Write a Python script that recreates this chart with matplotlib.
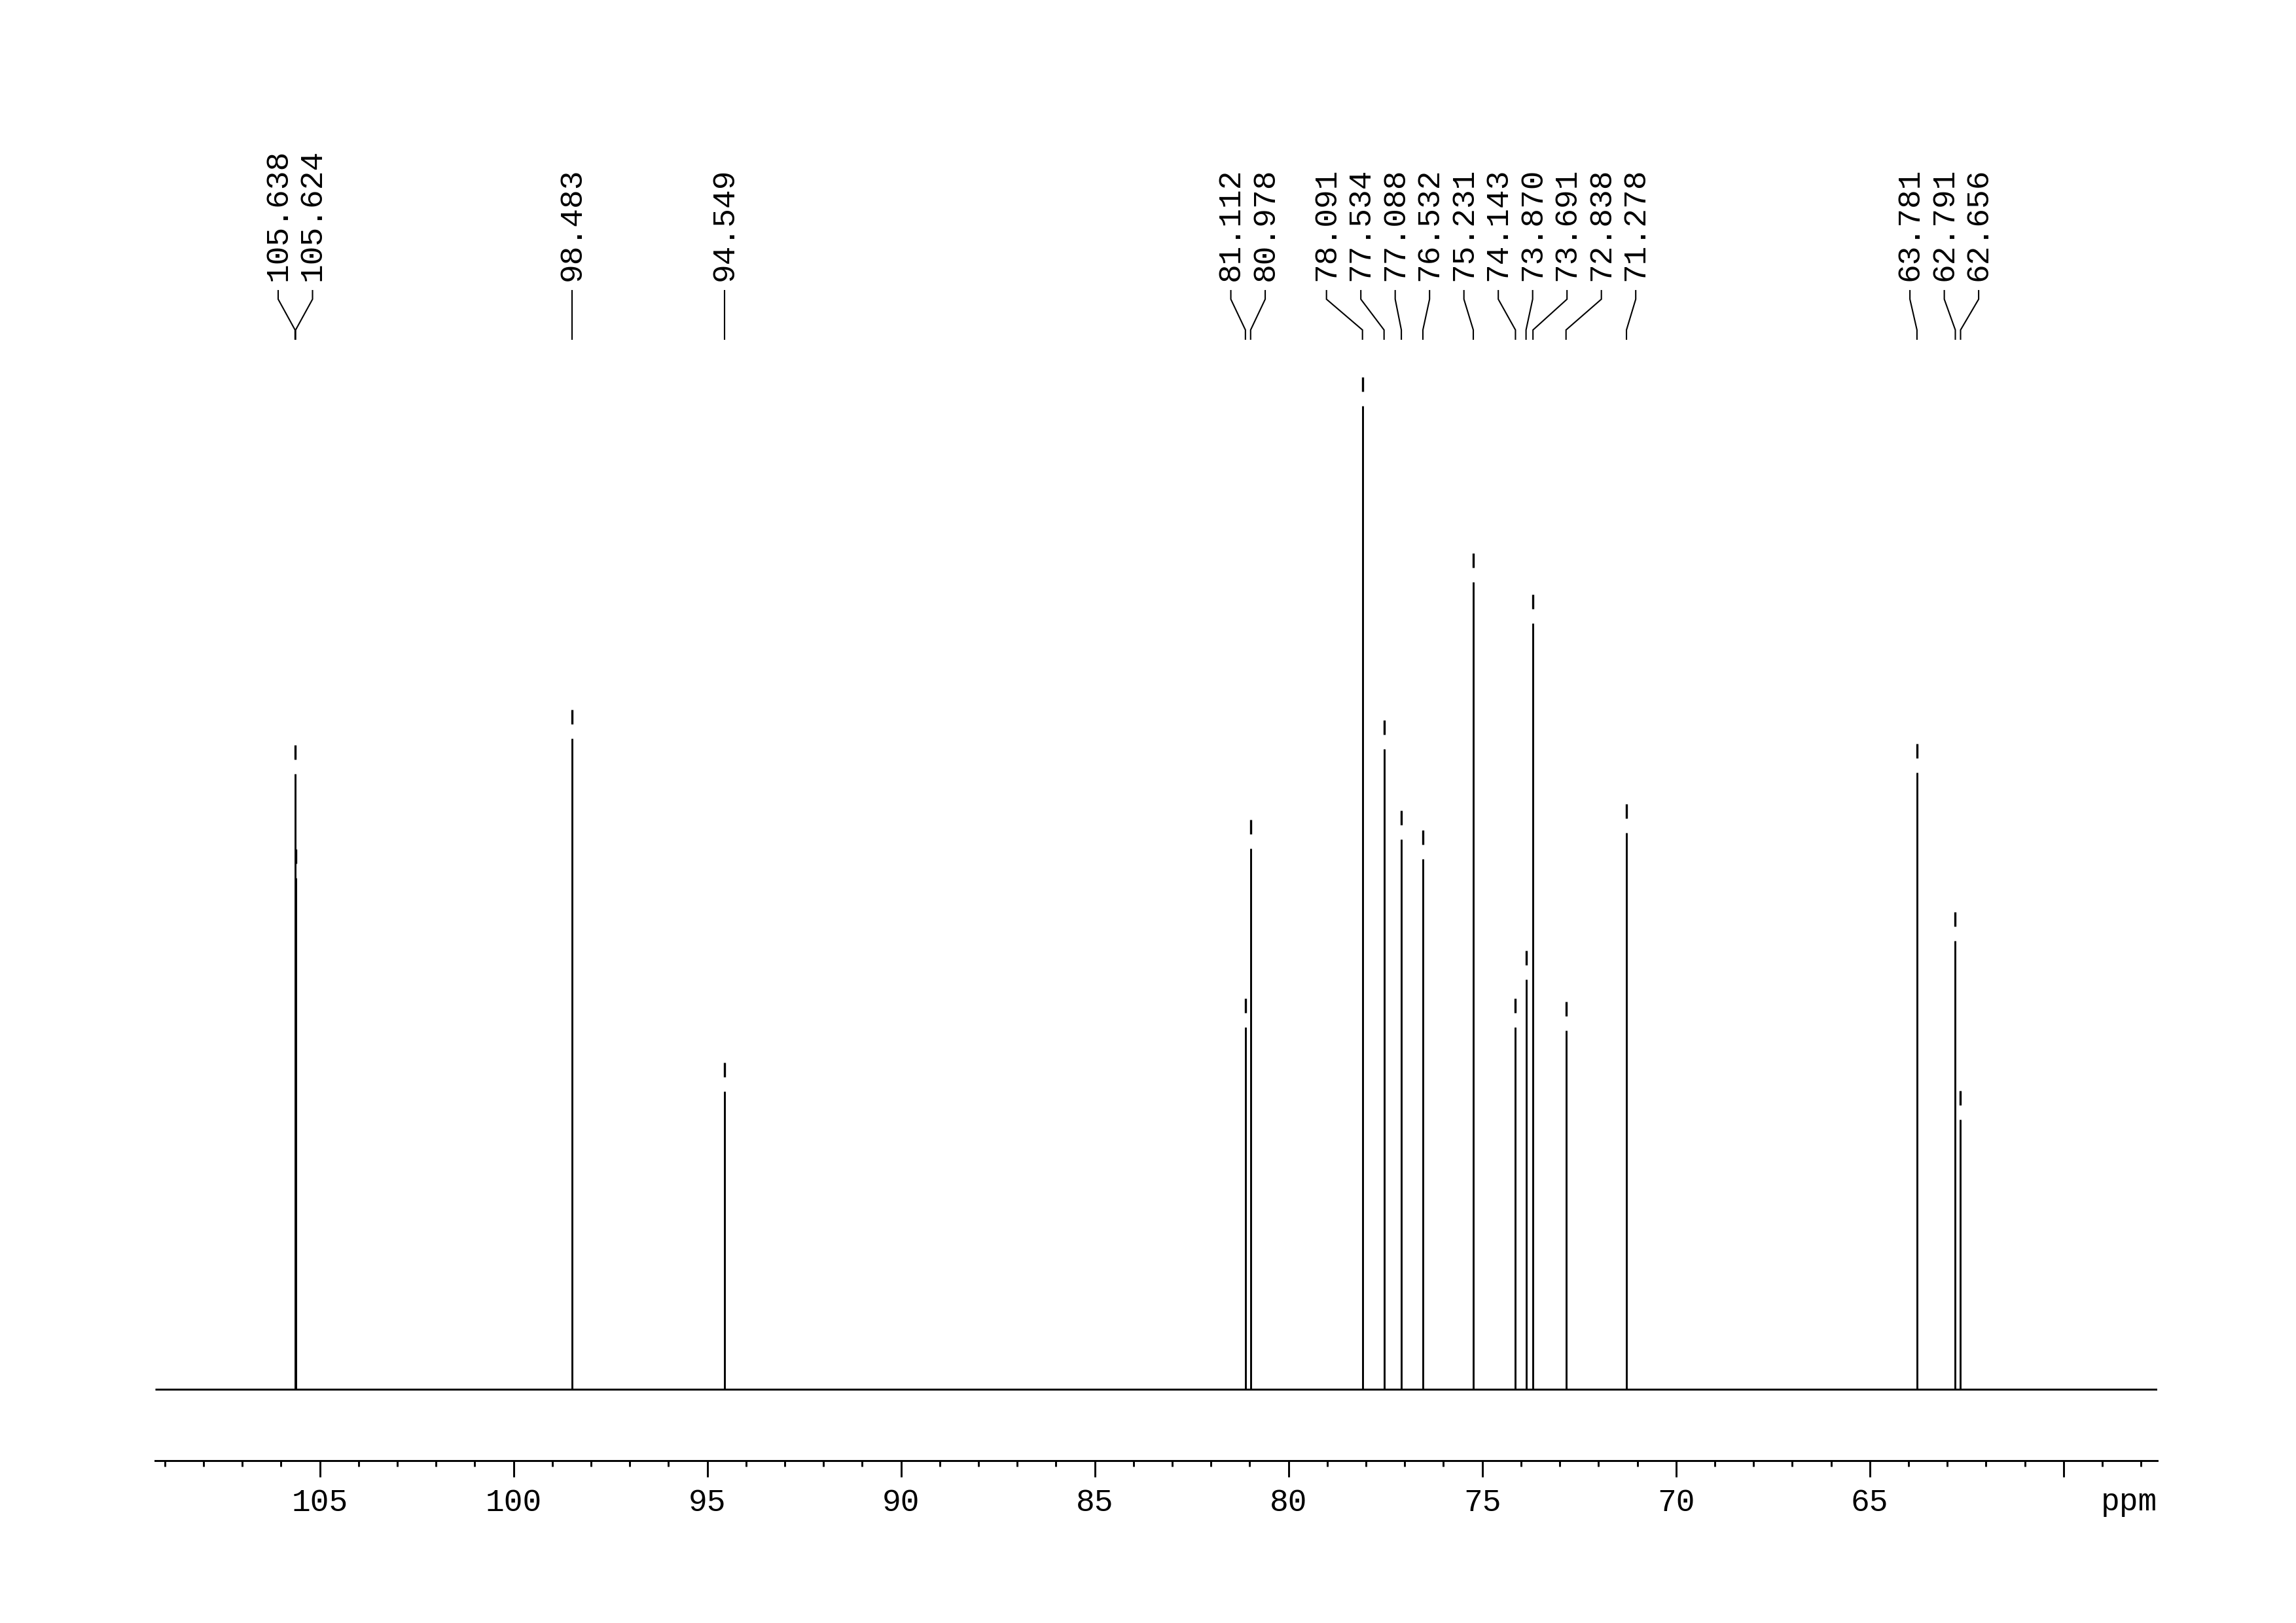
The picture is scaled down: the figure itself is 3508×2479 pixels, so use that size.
import numpy as np
import matplotlib
matplotlib.use("Agg")
from matplotlib import pyplot as plt
from matplotlib.ticker import MultipleLocator, FixedLocator
from matplotlib.transforms import blended_transform_factory

plt.rcParams['font.family'] = ['Liberation Mono', 'DejaVu Sans Mono']

# 13C peak list: chemical shift (ppm) and relative intensity (tallest = 100)
shift = [105.638, 105.624, 98.483, 94.549, 81.112, 80.978, 78.091, 77.534,
         77.088, 76.532, 75.231, 74.143, 73.870, 73.691, 72.838, 71.278,
         63.781, 62.791, 62.656]
height = [62.6, 52.0, 66.2, 30.3, 36.8, 55.0, 100.0, 65.1,
          55.9, 53.9, 82.1, 36.8, 41.7, 77.9, 36.5, 56.6,
          62.7, 45.6, 27.4]
peak_labels = ["%.3f" % s for s in shift]

major_ticks = [105, 100, 95, 90, 85, 80, 75, 70, 65, 60]
major_labels = ["105", "100", "95", "90", "85", "80", "75", "70", "65", ""]

# layout (pixels on the 3508 x 2479 page)
W, H = 3508, 2479
X_LEFT, X_RIGHT = 109.25, 57.58
AX_L, AX_R = 237, 3296
AXIS_Y, BASE_Y, TOP_Y = 2231, 2122, 620
TXT_Y = 429
CONN_Y = [444, 457, 504, 518]
SPACING_PX = 52.5
MARK_GAP, MARK_LEN = 22, 22
FS = 11.5

fig = plt.figure(figsize=(W / 300, H / 300), dpi=300)
ax = fig.add_axes([AX_L / W, 1 - AXIS_Y / H, (AX_R - AX_L) / W, (AXIS_Y - TOP_Y) / H])

px_per_unit = (BASE_Y - TOP_Y) / 100.0
ax.set_xlim(X_LEFT, X_RIGHT)
ax.set_ylim(-(AXIS_Y - BASE_Y) / px_per_unit, 100)

# spectrum: baseline plus peaks
lw = 0.7
ax.hlines(0, X_LEFT, X_RIGHT, color='black', lw=lw)
ax.vlines(shift, 0, height, color='black', lw=lw)

# peak pick markers
gap = MARK_GAP / px_per_unit
mlen = MARK_LEN / px_per_unit
hh = np.array(height)
ax.vlines(shift, hh + gap, hh + gap + mlen, color='black', lw=0.8, clip_on=False)

# axis styling
for side in ['left', 'right', 'top']:
    ax.spines[side].set_visible(False)
ax.spines['bottom'].set_linewidth(0.7)
ax.set_yticks([])
ax.xaxis.set_major_locator(FixedLocator(major_ticks))
ax.set_xticklabels(major_labels)
ax.xaxis.set_minor_locator(MultipleLocator(1))
ax.tick_params(axis='x', which='major', length=6, width=0.7, pad=4.2, labelsize=FS)
ax.tick_params(axis='x', which='minor', length=2.2, width=0.7)

blend = blended_transform_factory(ax.transData, fig.transFigure)
ax.text(X_RIGHT, 1 - 2307 / H, "ppm", transform=blend, ha='right',
        va='baseline', fontsize=FS)

# spread peak labels so they do not overlap
ppm_per_px = (X_LEFT - X_RIGHT) / (AX_R - AX_L)
sp = SPACING_PX * ppm_per_px
order = list(np.argsort(shift)[::-1])
groups = [[i] for i in order]


def label_pos(g):
    c = np.mean([shift[i] for i in g])
    n = len(g)
    return [c + ((n - 1) / 2.0 - k) * sp for k in range(n)]


while True:
    merged = False
    for j in range(len(groups) - 1):
        a = label_pos(groups[j])
        b = label_pos(groups[j + 1])
        if a[-1] - b[0] < sp - 1e-9:
            groups[j] = groups[j] + groups[j + 1]
            del groups[j + 1]
            merged = True
            break
    if not merged:
        break

yc = [1 - y / H for y in CONN_Y]
for g in groups:
    for i, lx in zip(g, label_pos(g)):
        ax.plot([lx, lx, shift[i], shift[i]], yc, color='black', lw=0.5,
                transform=blend, clip_on=False, solid_joinstyle='miter')
        ax.text(lx, 1 - TXT_Y / H, peak_labels[i], transform=blend, rotation=90,
                ha='center', va='bottom', fontsize=FS)

fig.savefig("out.png", dpi=300, facecolor='white')
